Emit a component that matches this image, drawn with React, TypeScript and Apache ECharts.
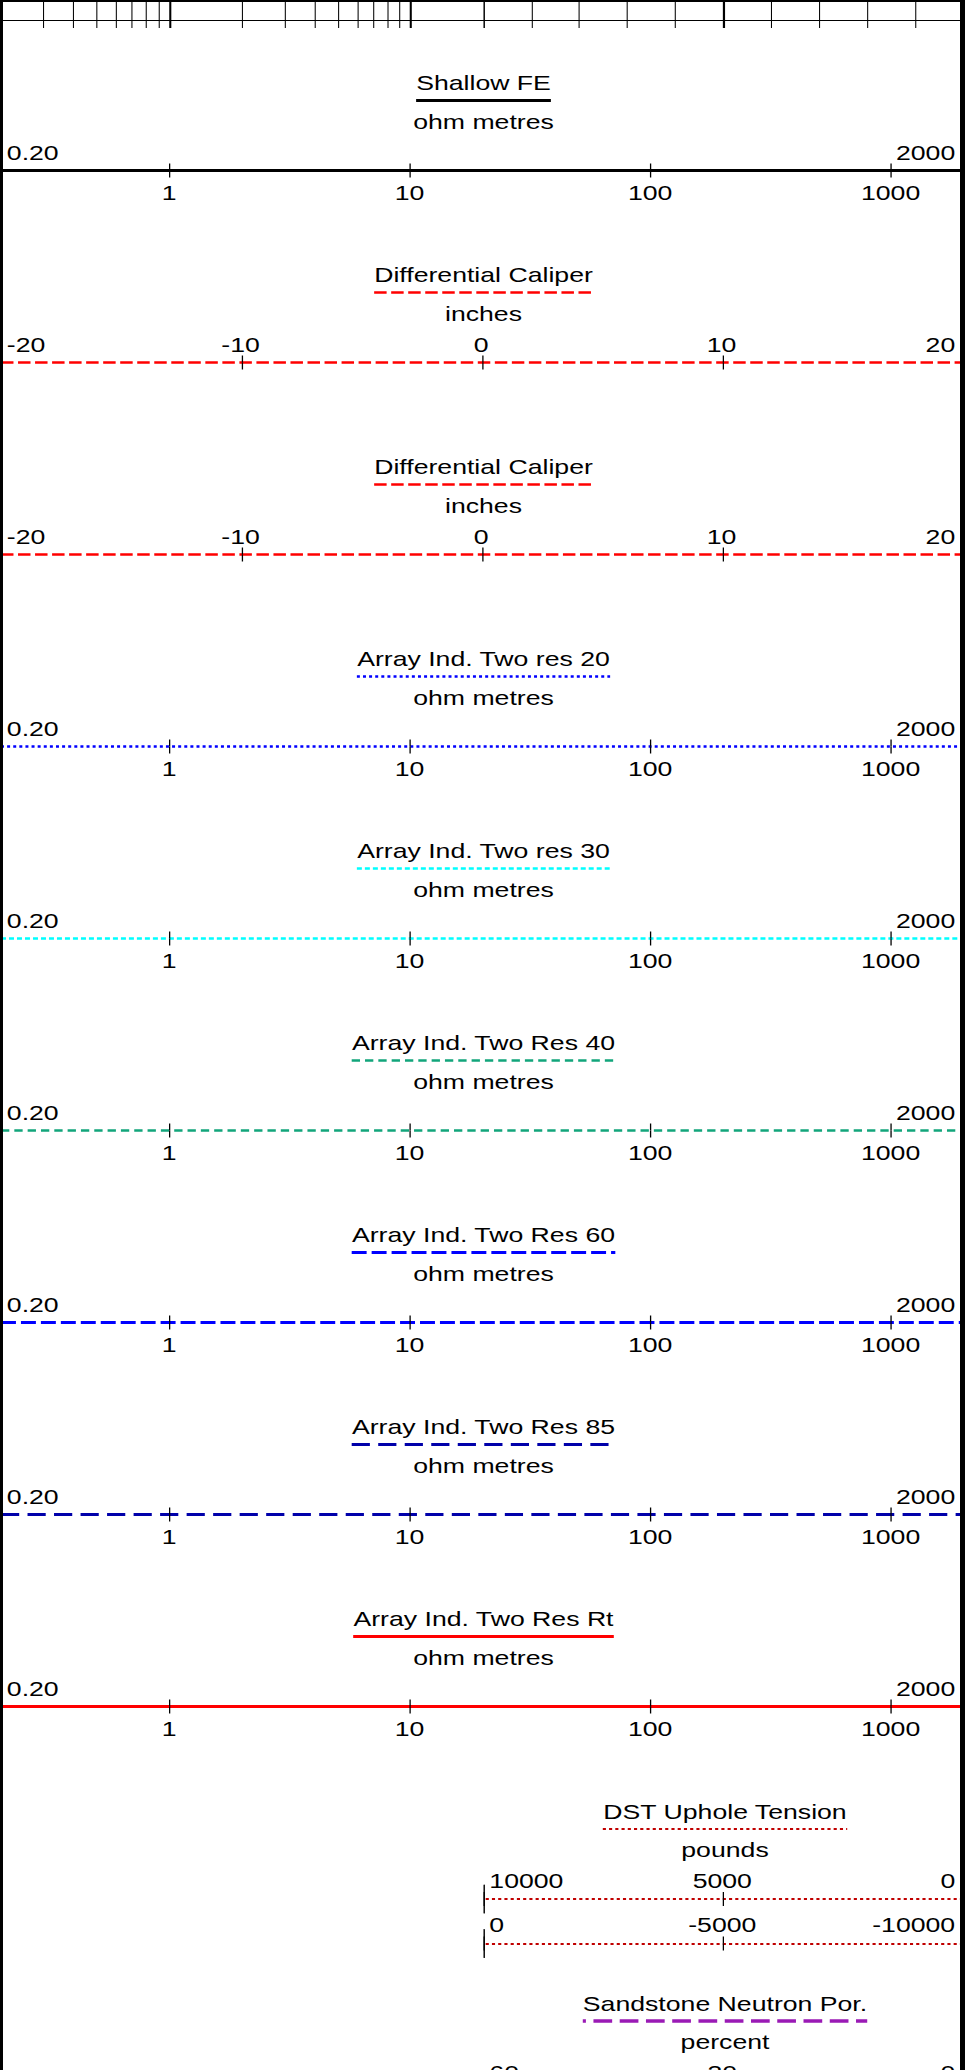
import React, { useEffect, useRef } from "react";
import * as echarts from "echarts";

// ---------- page / drawing frame ----------
const PAGE_W = 971;
const PAGE_H = 2070;
const BASE_W = 747; // the header is drawn at this width and stretched horizontally
const S = PAGE_W / BASE_W;
const FONT = "Liberation Sans";
const FS = 20.5;

// ---------- data ----------
const TITLES = [
  "Shallow FE",
  "Differential Caliper",
  "Differential Caliper",
  "Array Ind. Two res 20",
  "Array Ind. Two res 30",
  "Array Ind. Two Res 40",
  "Array Ind. Two Res 60",
  "Array Ind. Two Res 85",
  "Array Ind. Two Res Rt",
  "DST Uphole Tension",
  "Sandstone Neutron Por.",
];
const UNITS = [
  "ohm metres",
  "inches",
  "inches",
  "ohm metres",
  "ohm metres",
  "ohm metres",
  "ohm metres",
  "ohm metres",
  "ohm metres",
  "pounds",
  "percent",
];
const RES_MIN = 0.2;
const RES_MAX = 2000;
const RES_END_LABELS = ["0.20", "2000"];
const CAL_MIN = -20;
const CAL_MAX = 20;
const CAL_STEP = 10;
const DST_UPPER = [0, 10000]; // drawn reversed: 10000 -> 0
const DST_LOWER = [-10000, 0]; // drawn reversed: 0 -> -10000
const DST_STEP = 5000;
const NPHI_RANGE = [0, 60]; // drawn reversed: 60 -> 0
const NPHI_STEP = 30;
const PREV_LOG = [0.2, 20];
const PREV_LOG_MINOR = [0.3, 0.4, 0.5, 0.6, 0.7, 0.8, 0.9, 2, 3, 4, 5, 6, 7, 8, 9, 20];
const PREV_LOG_MAJOR = [1, 10];
const PREV_LIN = [0, 10];
const PREV_LIN_STEP = 1;
const PREV_LIN_MAJOR = [5];

// ---------- styles ----------
type CurveStyle = { color: string; width: number; dash: number[] | "solid" };
const STYLES: CurveStyle[] = [
  { color: "#000000", width: 3, dash: "solid" },
  { color: "#ff0000", width: 2.5, dash: [9.6, 3.5] },
  { color: "#ff0000", width: 2.5, dash: [9.6, 3.5] },
  { color: "#0000ff", width: 2.5, dash: [2.3, 2.4] },
  { color: "#00ffff", width: 2.5, dash: [3.85, 2.3] },
  { color: "#12a57b", width: 2.5, dash: [6.4, 3.85] },
  { color: "#0000ff", width: 3, dash: [11.5, 3.85] },
  { color: "#0000aa", width: 3, dash: [14, 6.4] },
  { color: "#ff0000", width: 3, dash: "solid" },
  { color: "#c00000", width: 2, dash: [2.4, 2.4] },
  { color: "#9a1ab5", width: 3.5, dash: [14.4, 5.8] },
];

// ---------- layout (full-page pixels) ----------
const LINE_Y = [170.5, 362.5, 554.5, 746.5, 938.5, 1130.5, 1322.5, 1514.5, 1706.5];
const DST_Y = [1899, 1943.5];
const NPHI_Y = 2091;
const FULL_X0 = 1;
const FULL_X1 = 963;
const HALF_X0 = 483.5;
const FULL_CX = 483.5;
const HALF_CX = 725;

const fx = (v: number) => v / S;
const near = (a: number, b: number) => Math.abs(a - b) <= Math.abs(b) * 1e-9 + 1e-12;

type Spec = {
  kind: "log" | "value";
  min: number;
  max: number;
  step?: number;
  inverse?: boolean;
  x0: number;
  x1: number;
  y: number;
  style: CurveStyle;
  above: "ends" | "all";
  endLabels?: string[];
  below: boolean;
  bar?: boolean;
  aboveMargin: number;
};

export default function App() {
  const ref = useRef<HTMLDivElement>(null);

  useEffect(() => {
    document.body.style.margin = "0";
    document.body.style.overflow = "hidden";
    const el = ref.current!;
    const chart = echarts.init(el, null, { renderer: "svg" });

    const canvas = document.createElement("canvas");
    const ctx = canvas.getContext("2d")!;
    ctx.font = `${FS}px "${FONT}"`;
    const tw = (t: string) => ctx.measureText(t).width;

    const grids: any[] = [];
    const xAxes: any[] = [];
    const yAxes: any[] = [];
    const lab = { fontFamily: FONT, fontSize: FS, color: "#000" };

    const addScaleLine = (sp: Spec) => {
      const gi = grids.length;
      grids.push({
        left: fx(sp.x0),
        width: fx(sp.x1 - sp.x0),
        top: sp.y - 14,
        height: 28,
        containLabel: false,
        outerBoundsMode: "none",
      });
      yAxes.push({
        gridIndex: gi,
        type: "value",
        min: -1,
        max: 1,
        show: !!sp.bar,
        axisLine: { show: !!sp.bar, onZero: false, lineStyle: { color: "#000", width: 1.1 } },
        axisTick: { show: false },
        axisLabel: { show: false },
        splitLine: { show: false },
      });
      const scale: any =
        sp.kind === "log"
          ? { type: "log", logBase: 10, min: sp.min, max: sp.max }
          : { type: "value", min: sp.min, max: sp.max, interval: sp.step };
      scale.inverse = !!sp.inverse;
      xAxes.push({
        gridIndex: gi,
        ...scale,
        position: "bottom",
        offset: -14,
        axisLine: {
          show: true,
          onZero: false,
          lineStyle: { color: sp.style.color, width: sp.style.width, type: sp.style.dash, cap: "butt" },
        },
        axisTick: { show: true, inside: false, length: 7, lineStyle: { color: "#000", width: 1 } },
        axisLabel: sp.below
          ? {
              ...lab,
              show: true,
              margin: 12,
              showMinLabel: false,
              showMaxLabel: false,
              formatter: (v: number) => String(v),
            }
          : { show: false },
        splitLine: { show: false },
      });
      xAxes.push({
        gridIndex: gi,
        ...scale,
        position: "bottom",
        offset: -14,
        axisLine: { show: false, onZero: false },
        axisTick: { show: true, inside: true, length: 7, lineStyle: { color: "#000", width: 1 } },
        axisLabel: {
          ...lab,
          show: true,
          inside: true,
          margin: sp.aboveMargin,
          showMinLabel: true,
          showMaxLabel: true,
          alignMinLabel: sp.inverse ? "right" : "left",
          alignMaxLabel: sp.inverse ? "left" : "right",
          padding: [0, 6, 0, 4.5],
          formatter:
            sp.above === "ends"
              ? (v: number) =>
                  near(v, sp.min) ? sp.endLabels![0] : near(v, sp.max) ? sp.endLabels![1] : ""
              : (v: number) => String(v),
        },
        splitLine: { show: false },
      });
    };

    // ---- remnant grid of the track above (top strip) ----
    const addPrevTrack = (
      scale: any,
      x0: number,
      x1: number,
      minor: number[] | null,
      major: number[]
    ) => {
      const gi = grids.length;
      grids.push({
        left: fx(x0),
        width: fx(x1 - x0),
        top: 0,
        height: 20,
        containLabel: false,
        outerBoundsMode: "none",
      });
      yAxes.push({ gridIndex: gi, type: "value", min: 0, max: 1, show: false });
      const base = {
        gridIndex: gi,
        ...scale,
        axisLabel: { show: false },
        splitLine: { show: false },
      };
      xAxes.push({
        ...base,
        position: "top",
        axisLine: { show: false, onZero: false },
        axisTick: {
          show: true,
          inside: true,
          length: 28,
          ...(minor ? { customValues: minor } : {}),
          lineStyle: { color: "#000", width: 0.8 },
        },
      });
      xAxes.push({
        ...base,
        position: "top",
        axisLine: { show: false, onZero: false },
        axisTick: {
          show: true,
          inside: true,
          length: 28,
          customValues: major,
          lineStyle: { color: "#000", width: 1.6 },
        },
      });
      xAxes.push({
        ...base,
        position: "bottom",
        axisLine: { show: true, onZero: false, lineStyle: { color: "#000", width: 1 } },
        axisTick: { show: false },
      });
    };

    addPrevTrack(
      { type: "log", logBase: 10, min: PREV_LOG[0], max: PREV_LOG[1] },
      FULL_X0,
      HALF_X0,
      PREV_LOG_MINOR,
      PREV_LOG_MAJOR
    );
    addPrevTrack(
      { type: "value", min: PREV_LIN[0], max: PREV_LIN[1], interval: PREV_LIN_STEP },
      HALF_X0,
      FULL_X1,
      null,
      PREV_LIN_MAJOR
    );

    // ---- full-width tracks ----
    LINE_Y.forEach((y, k) => {
      const isCal = k === 1 || k === 2;
      addScaleLine(
        isCal
          ? {
              kind: "value",
              min: CAL_MIN,
              max: CAL_MAX,
              step: CAL_STEP,
              x0: FULL_X0,
              x1: FULL_X1,
              y,
              style: STYLES[k],
              above: "all",
              below: false,
              aboveMargin: 7,
            }
          : {
              kind: "log",
              min: RES_MIN,
              max: RES_MAX,
              x0: FULL_X0,
              x1: FULL_X1,
              y,
              style: STYLES[k],
              above: "ends",
              endLabels: RES_END_LABELS,
              below: true,
              aboveMargin: 7,
            }
      );
    });

    // ---- right-half tracks ----
    addScaleLine({
      kind: "value",
      min: DST_UPPER[0],
      max: DST_UPPER[1],
      step: DST_STEP,
      inverse: true,
      x0: HALF_X0,
      x1: FULL_X1,
      y: DST_Y[0],
      style: STYLES[9],
      above: "all",
      below: false,
      bar: true,
      aboveMargin: 8,
    });
    addScaleLine({
      kind: "value",
      min: DST_LOWER[0],
      max: DST_LOWER[1],
      step: DST_STEP,
      inverse: true,
      x0: HALF_X0,
      x1: FULL_X1,
      y: DST_Y[1],
      style: STYLES[9],
      above: "all",
      below: false,
      bar: true,
      aboveMargin: 8,
    });
    addScaleLine({
      kind: "value",
      min: NPHI_RANGE[0],
      max: NPHI_RANGE[1],
      step: NPHI_STEP,
      inverse: true,
      x0: HALF_X0,
      x1: FULL_X1,
      y: NPHI_Y,
      style: STYLES[10],
      above: "all",
      below: false,
      bar: true,
      aboveMargin: 8,
    });

    // ---- titles, underlines, units ----
    const graphic: any[] = [];
    const headerY = [...LINE_Y, DST_Y[0], NPHI_Y];
    TITLES.forEach((title, i) => {
      const L = headerY[i];
      const cx = fx(i >= 9 ? HALF_CX : FULL_CX);
      const w = tw(title);
      const st = STYLES[i];
      graphic.push({
        type: "text",
        x: cx,
        y: L - 87.6,
        z: 10,
        style: {
          text: title,
          fontFamily: FONT,
          fontSize: FS,
          fill: "#000",
          align: "center",
          verticalAlign: "middle",
          textAlign: "center",
          textVerticalAlign: "middle",
        },
      });
      graphic.push({
        type: "line",
        z: 10,
        shape: { x1: cx - w / 2, y1: L - 70, x2: cx + w / 2, y2: L - 70 },
        style: {
          stroke: st.color,
          lineWidth: st.width,
          ...(st.dash === "solid" ? {} : { lineDash: st.dash }),
          ...(i === 10 ? { lineDashOffset: 12.4 } : {}),
        },
      });
      graphic.push({
        type: "text",
        x: cx,
        y: L - 49.1,
        z: 10,
        style: {
          text: UNITS[i],
          fontFamily: FONT,
          fontSize: FS,
          fill: "#000",
          align: "center",
          verticalAlign: "middle",
          textAlign: "center",
          textVerticalAlign: "middle",
        },
      });
    });

    // ---- frame ----
    graphic.push({ type: "rect", z: 100, shape: { x: 0, y: 0, width: fx(3), height: PAGE_H }, style: { fill: "#000" } });
    graphic.push({ type: "rect", z: 100, shape: { x: fx(960), y: 0, width: fx(5), height: PAGE_H }, style: { fill: "#000" } });
    graphic.push({ type: "rect", z: 100, shape: { x: 0, y: 0, width: fx(965), height: 2 }, style: { fill: "#000" } });

    chart.setOption({
      animation: false,
      backgroundColor: "#ffffff",
      grid: grids,
      xAxis: xAxes,
      yAxis: yAxes,
      series: [],
      graphic,
    });

    return () => chart.dispose();
  }, []);

  return (
    <div
      ref={ref}
      style={{
        width: BASE_W,
        height: PAGE_H,
        transform: `scaleX(${S})`,
        transformOrigin: "0 0",
      }}
    />
  );
}
